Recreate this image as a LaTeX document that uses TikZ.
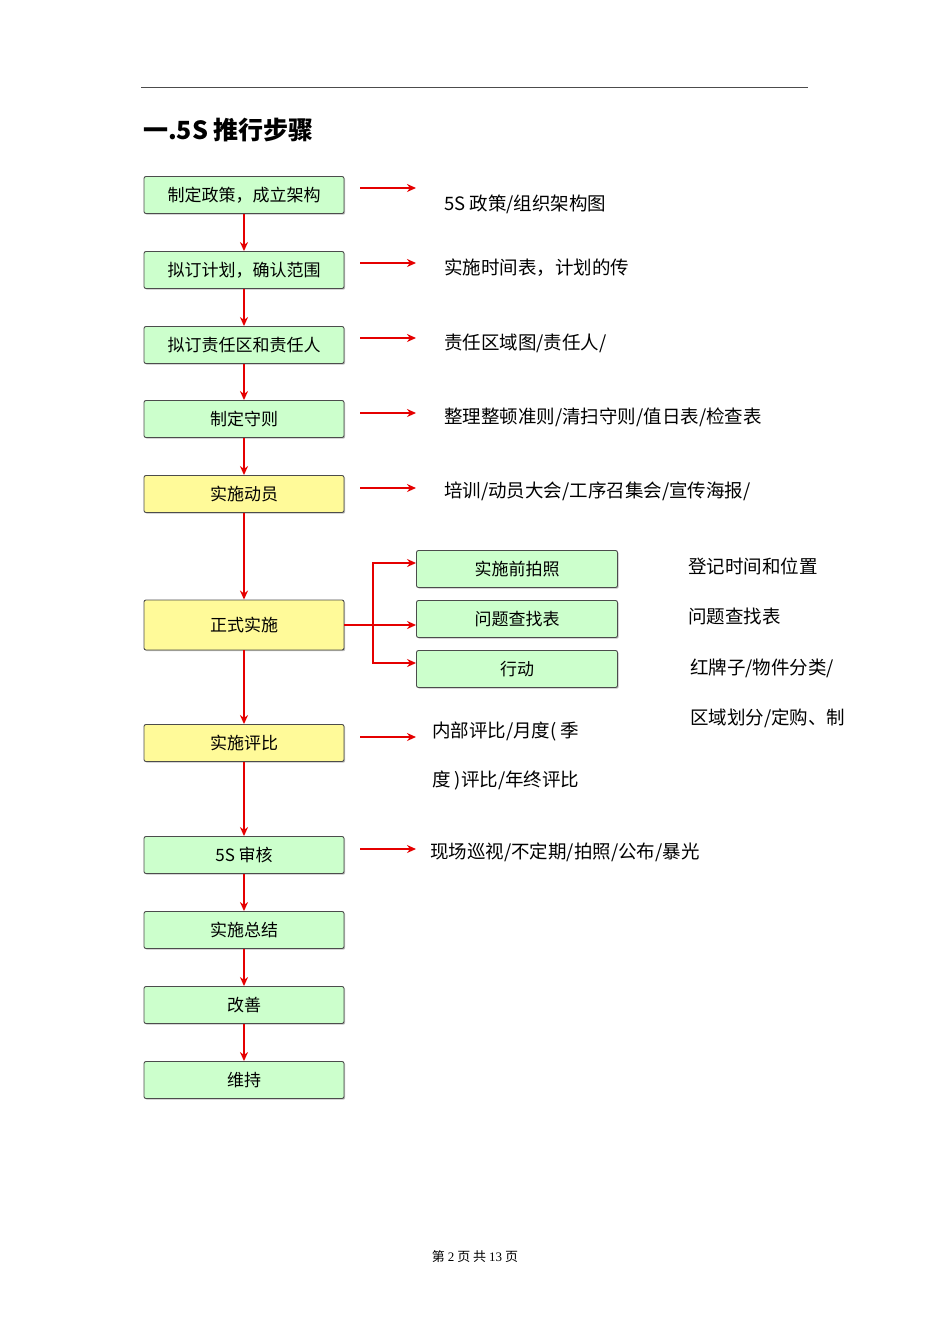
\documentclass[tikz,border=0pt]{standalone}
\usepackage{fontspec}
\setmainfont{Noto Sans CJK SC}
\newfontfamily\serifnum{Liberation Serif}
\usetikzlibrary{arrows.meta,shadows}
\begin{document}
\begin{tikzpicture}[x=1pt,y=-1pt,
  stepbox/.style={draw=black!70,line width=0.9pt,rounded corners=2pt,minimum width=200pt,minimum height=37pt,inner sep=0pt,font=\fontsize{17}{20}\selectfont,drop shadow={shadow xshift=1.2pt,shadow yshift=-1.2pt,opacity=0.5}},
  gbox/.style={stepbox,fill=green!20},
  ybox/.style={stepbox,fill=yellow!40},
  sbox/.style={stepbox,fill=green!20,minimum width=201pt},
  arr/.style={red!90!black,line width=1.6pt,-{Stealth[length=9pt,width=8pt]}},
  txt/.style={anchor=west,inner sep=0pt,font=\fontsize{18.5}{21}\selectfont}]
\useasboundingbox (0,0) rectangle (950,1344);
\draw[black!70,line width=0.8pt] (141,87) -- (808,87);
\node[anchor=west,inner sep=0pt,font=\fontsize{25}{28}\selectfont\bfseries] (title) at (143,130) {一.5S 推行步骤};
\node[gbox] (b1) at (244,195) {制定政策，成立架构};
\node[gbox] (b2) at (244,270) {拟订计划，确认范围};
\node[gbox] (b3) at (244,345) {拟订责任区和责任人};
\node[gbox] (b4) at (244,419) {制定守则};
\node[ybox] (b5) at (244,494) {实施动员};
\node[ybox,minimum height=50pt] (b6) at (244,625) {正式实施};
\node[ybox] (b7) at (244,743) {实施评比};
\node[gbox] (b8) at (244,855) {5S 审核};
\node[gbox] (b9) at (244,930) {实施总结};
\node[gbox] (b10) at (244,1005) {改善};
\node[gbox] (b11) at (244,1080) {维持};
\foreach \a/\b in {b1/b2,b2/b3,b3/b4,b4/b5,b5/b6,b6/b7,b7/b8,b8/b9,b9/b10,b10/b11}
  \draw[arr] (\a) -- (\b);
\node[sbox] (s1) at (517,569) {实施前拍照};
\node[sbox] (s2) at (517,619) {问题查找表};
\node[sbox] (s3) at (517,669) {行动};
\coordinate (j) at (373,625);
\draw[red!90!black,line width=1.6pt] (b6.east|-j) -- (j);
\draw[arr] (j) |- ([yshift=6pt]s1.west);
\draw[arr] (j) -- (s2.west|-j);
\draw[arr] (j) |- ([yshift=6pt]s3.west);
\foreach \y/\n in {188/a1,263/a2,338/a3,413/a4,488/a5,737/a7,849/a8}{
  \coordinate (\n s) at (360,\y); \coordinate (\n e) at (416,\y);
  \draw[arr] (\n s) -- (\n e);}
\node[txt] (t1) at (444,204) {5S 政策/组织架构图};
\node[txt] (t2) at (444,268) {实施时间表，计划的传};
\node[txt] (t3) at (444,343) {责任区域图/责任人/};
\node[txt] (t4) at (444,417) {整理整顿准则/清扫守则/值日表/检查表};
\node[txt] (t5) at (444,491) {培训/动员大会/工序召集会/宣传海报/};
\node[txt] (t6) at (688,566) {登记时间和位置};
\node[txt] (t7) at (688,616) {问题查找表};
\node[txt] (t8) at (690,668) {红牌子/物件分类/};
\node[txt] (t9) at (690,718) {区域划分/定购、制};
\node[txt] (t10) at (432,731) {内部评比/月度( 季};
\node[txt] (t11) at (432,780) {度 )评比/年终评比};
\node[txt] (t12) at (430,852) {现场巡视/不定期/拍照/公布/暴光};
\node[font=\fontsize{13}{15}\selectfont] (foot) at (475,1257) {第 {\serifnum 2} 页 共 {\serifnum 13} 页};
\end{tikzpicture}
\end{document}
